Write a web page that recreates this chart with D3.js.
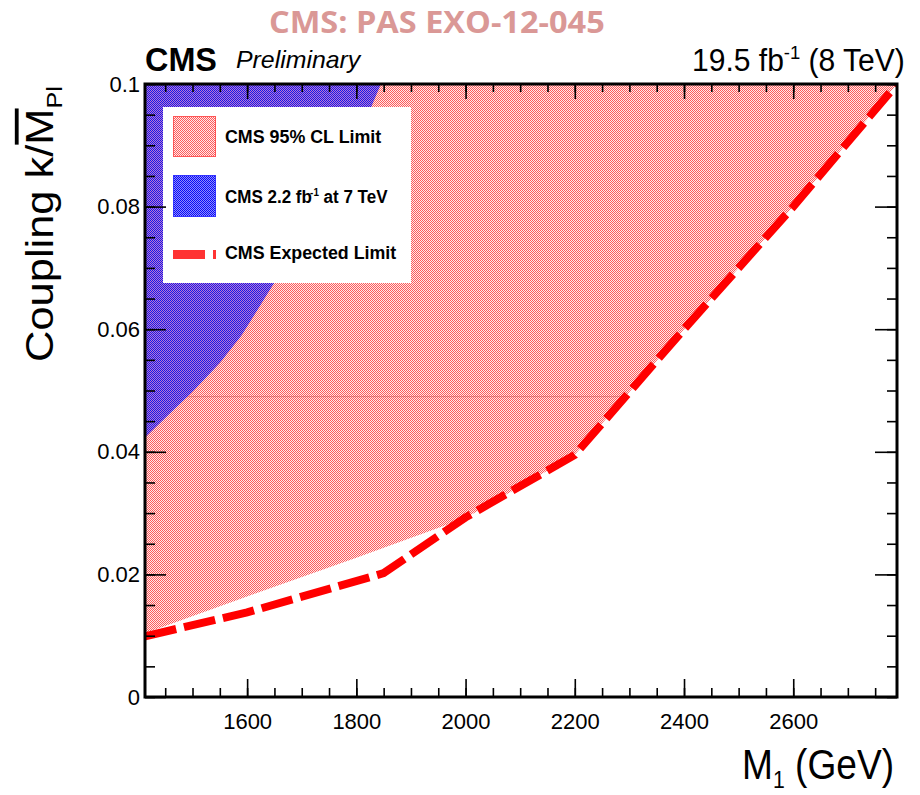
<!DOCTYPE html>
<html>
<head>
<meta charset="utf-8">
<script src="https://cdn.jsdelivr.net/npm/d3@7"></script>
<style>
  body { margin: 0; background: #fff; }
  svg { display: block; }
</style>
</head>
<body>
<svg id="chart" width="920" height="795"></svg>
<script>
// ---- Limits on the RS graviton coupling vs. mass ----
// Expected 95% CL limit (8 TeV)
const expectedMass     = [1413, 1600, 1850, 2000, 2200, 2400, 2600, 2790];
const expectedCoupling = [0.0099, 0.0138, 0.0202, 0.0293, 0.0395, 0.0600, 0.0800, 0.1000];

// Observed 95% CL limit (8 TeV), lower edge of the excluded band
const observedMass     = [1413, 1600, 1800, 2000, 2200, 2400, 2600, 2790];
const observedCoupling = [0.0104, 0.0164, 0.0227, 0.0292, 0.0395, 0.0600, 0.0800, 0.1000];

// Earlier 2.2 fb^-1 result at 7 TeV, edge of its excluded region
const run7Mass     = [1413, 1465, 1500, 1550, 1590, 1650, 1700, 1750, 1800, 1845];
const run7Coupling = [0.0423, 0.0468, 0.0498, 0.0545, 0.0590, 0.0676, 0.0755, 0.0830, 0.0905, 0.1000];

// Thin graph line running across the band
const guideCoupling = 0.049;

// Axes
const massRange     = [1413, 2790];
const couplingRange = [0, 0.1];
const massTicks     = [1600, 1800, 2000, 2200, 2400, 2600];
const massMinor     = d3.range(1450, 2790, 50);
const couplingTicks = [0, 0.02, 0.04, 0.06, 0.08, 0.1];
const couplingMinor = d3.range(0, 0.1001, 0.005);

const legendLabels = ["CMS 95% CL Limit", "CMS 2.2 fb", "CMS Expected Limit"];

// ---- layout ----
const svg = d3.select("#chart");
const L = 145, R = 897, T = 84, B = 697;
const x = d3.scaleLinear().domain(massRange).range([L, R]);
const y = d3.scaleLinear().domain(couplingRange).range([B, T]);
const FONT = "'Liberation Sans', Arial, Helvetica, sans-serif";

// scale a text horizontally about its anchor so it spans a given width
function fit(sel, target, ax) {
  const w = sel.node().getBBox().width;
  const k = target / w;
  sel.attr("transform", `translate(${ax},0) scale(${k},1) translate(${-ax},0)`);
}

const defs = svg.append("defs");
function checker(id, bg, fg) {
  const p = defs.append("pattern").attr("id", id)
    .attr("patternUnits", "userSpaceOnUse").attr("width", 2).attr("height", 2);
  p.append("rect").attr("width", 2).attr("height", 2).attr("fill", bg);
  p.append("rect").attr("x", 0).attr("y", 0).attr("width", 1).attr("height", 1).attr("fill", fg);
  p.append("rect").attr("x", 1).attr("y", 1).attr("width", 1).attr("height", 1).attr("fill", fg);
}
checker("redFill", "#fdeaea", "#ff5a5a");
checker("blueFill", "#b878d4", "#1818e8");
checker("blueKey", "#8c8cff", "#0a0af5");

defs.append("clipPath").attr("id", "plotClip")
  .append("rect").attr("x", L).attr("y", T).attr("width", R - L).attr("height", B - T);

const plot = svg.append("g").attr("clip-path", "url(#plotClip)");

// observed exclusion band
const obsData = d3.zip(observedMass, observedCoupling);
plot.append("path")
  .attr("d", d3.area().x(d => x(d[0])).y0(d => y(d[1])).y1(y(0.1))(obsData))
  .attr("fill", "url(#redFill)");

// thin guide line up to where it meets the expected curve
const expData = d3.zip(expectedMass, expectedCoupling);
let guideEnd = massRange[1];
for (let i = 1; i < expData.length; i++) {
  const [m0, c0] = expData[i - 1], [m1, c1] = expData[i];
  if (c0 <= guideCoupling && c1 >= guideCoupling) {
    guideEnd = m0 + (m1 - m0) * (guideCoupling - c0) / (c1 - c0);
    break;
  }
}
plot.append("line")
  .attr("x1", x(massRange[0])).attr("x2", x(guideEnd))
  .attr("y1", y(guideCoupling)).attr("y2", y(guideCoupling))
  .attr("stroke", "#c84040").attr("stroke-opacity", 0.45).attr("stroke-width", 1);

// 7 TeV excluded region
const run7Data = d3.zip(run7Mass, run7Coupling);
plot.append("path")
  .attr("d", d3.area().x(d => x(d[0])).y0(d => y(d[1])).y1(y(0.1))(run7Data))
  .attr("fill", "url(#blueFill)");

// expected limit
plot.append("path")
  .attr("d", d3.line().x(d => x(d[0])).y(d => y(d[1]))(expData))
  .attr("fill", "none").attr("stroke", "#ff0000").attr("stroke-width", 8)
  .attr("stroke-dasharray", "32 8").attr("stroke-linejoin", "miter");

// ---- legend ----
const leg = svg.append("g");
leg.append("rect").attr("x", 163).attr("y", 107).attr("width", 248).attr("height", 176).attr("fill", "#fff");
leg.append("rect").attr("x", 173.5).attr("y", 116.5).attr("width", 42).attr("height", 40)
  .attr("fill", "url(#redFill)").attr("stroke", "#ff5555").attr("stroke-width", 1);
leg.append("rect").attr("x", 173.5).attr("y", 175.5).attr("width", 42).attr("height", 41)
  .attr("fill", "url(#blueKey)").attr("stroke", "#3333ff").attr("stroke-width", 1);
leg.append("line").attr("x1", 173).attr("x2", 216).attr("y1", 254.5).attr("y2", 254.5)
  .attr("stroke", "#ff3333").attr("stroke-width", 9).attr("stroke-dasharray", "32 8");

const legText = (yy) => leg.append("text").attr("x", 225).attr("y", yy)
  .attr("font-family", FONT).attr("font-weight", "bold").attr("font-size", 19).attr("fill", "#000");
const t1 = legText(143).text(legendLabels[0]); fit(t1, 157, 225);
const t2 = legText(203);
t2.append("tspan").text(legendLabels[1]);
t2.append("tspan").attr("dx", -2).attr("dy", -7).attr("font-size", 11).text("-1");
t2.append("tspan").attr("dy", 7).text(" at 7 TeV");
fit(t2, 163, 225);
const t3 = legText(259).text(legendLabels[2]); fit(t3, 172, 225);

// ---- axes ----
const axisStyle = g => {
  g.select(".domain").remove();
  g.selectAll(".tick line").attr("stroke", "#000").attr("stroke-width", 1.6);
  g.selectAll("text").attr("font-family", FONT).attr("font-size", 22).attr("fill", "#000");
};
const yFmt = d => d === 0 ? "0" : d3.format(".2~f")(d);

svg.append("g").attr("transform", `translate(0,${B})`)
  .call(d3.axisBottom(x).tickValues(massMinor).tickSize(-9).tickFormat("")).call(axisStyle);
svg.append("g").attr("transform", `translate(0,${B})`)
  .call(d3.axisBottom(x).tickValues(massTicks).tickSize(-18).tickPadding(16).tickFormat(d3.format("d"))).call(axisStyle);
svg.append("g").attr("transform", `translate(0,${T})`)
  .call(d3.axisTop(x).tickValues(massMinor).tickSize(-8).tickFormat("")).call(axisStyle);
svg.append("g").attr("transform", `translate(0,${T})`)
  .call(d3.axisTop(x).tickValues(massTicks).tickSize(-15).tickFormat("")).call(axisStyle);

svg.append("g").attr("transform", `translate(${L},0)`)
  .call(d3.axisLeft(y).tickValues(couplingMinor).tickSize(-10).tickFormat("")).call(axisStyle);
svg.append("g").attr("transform", `translate(${L},0)`)
  .call(d3.axisLeft(y).tickValues(couplingTicks).tickSize(-21).tickPadding(5).tickFormat(yFmt)).call(axisStyle);
svg.append("g").attr("transform", `translate(${R},0)`)
  .call(d3.axisRight(y).tickValues(couplingMinor).tickSize(-10).tickFormat("")).call(axisStyle);
svg.append("g").attr("transform", `translate(${R},0)`)
  .call(d3.axisRight(y).tickValues(couplingTicks).tickSize(-22).tickFormat("")).call(axisStyle);

// frame
svg.append("rect").attr("x", L).attr("y", T).attr("width", R - L).attr("height", B - T)
  .attr("fill", "none").attr("stroke", "#000").attr("stroke-width", 3);

// ---- titles ----
const xt = svg.append("text").attr("x", 894).attr("y", 779).attr("text-anchor", "end")
  .attr("font-family", FONT).attr("font-size", 42).attr("fill", "#000");
xt.append("tspan").text("M");
xt.append("tspan").attr("font-size", 24).attr("dy", 9).text("1");
xt.append("tspan").attr("dy", -9).text(" (GeV)");
fit(xt, 152, 894);

const ytg = svg.append("g").attr("transform", "translate(53,224) rotate(-90)");
const yt = ytg.append("text").attr("x", 0).attr("y", 0).attr("text-anchor", "middle")
  .attr("font-family", FONT).attr("font-size", 38).attr("fill", "#000");
yt.append("tspan").text("Coupling k/");
yt.append("tspan").style("text-decoration", "overline").text("M");
yt.append("tspan").attr("font-size", 22).attr("dy", 9).text("Pl");
fit(yt, 276, 0);

const cms = svg.append("text").attr("x", 145).attr("y", 71)
  .attr("font-family", FONT).attr("font-weight", "bold").attr("font-size", 33).attr("fill", "#000").text("CMS");
fit(cms, 72, 145);
const prel = svg.append("text").attr("x", 236).attr("y", 68)
  .attr("font-family", FONT).attr("font-style", "italic").attr("font-size", 23).attr("fill", "#000").text("Preliminary");
fit(prel, 126, 236);

const lumi = svg.append("text").attr("x", 692).attr("y", 71)
  .attr("font-family", FONT).attr("font-size", 31).attr("fill", "#000");
lumi.append("tspan").text("19.5 fb");
lumi.append("tspan").attr("dx", 0).attr("dy", -12).attr("font-size", 19).text("-1");
lumi.append("tspan").attr("dy", 12).text(" (8 TeV)");
fit(lumi, 213, 692);

const ref = svg.append("text").attr("x", 269).attr("y", 33)
  .attr("font-family", "'Open Sans', 'Noto Sans', sans-serif").attr("font-weight", "bold")
  .attr("font-size", 30).attr("fill", "#da9896").text("CMS: PAS EXO-12-045");
fit(ref, 336, 269);
</script>
</body>
</html>
